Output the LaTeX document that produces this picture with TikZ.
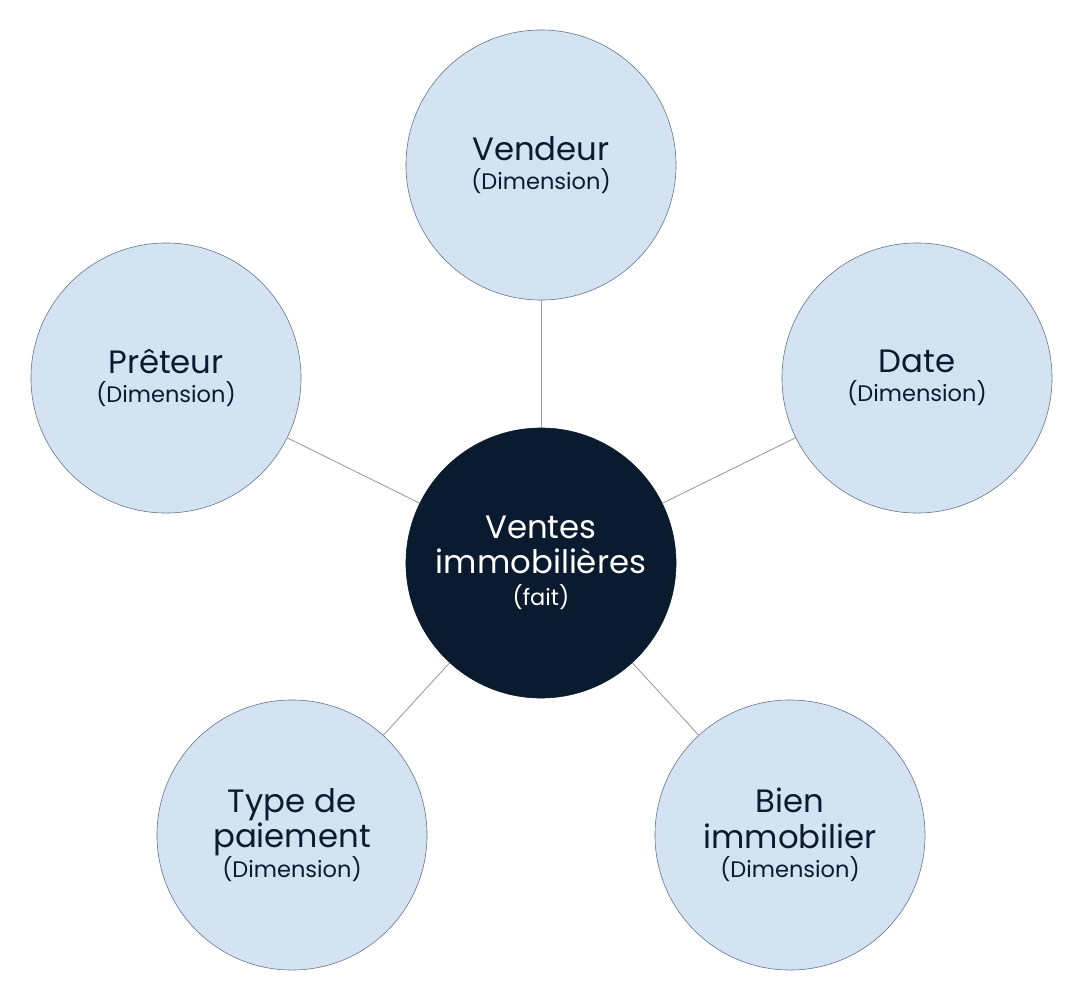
\documentclass[tikz,border=0pt]{standalone}
\usepackage{fontspec}
\setmainfont{Poppins}
\usepackage{tikz}
\definecolor{dimfill}{HTML}{D4E3F2}
\definecolor{dimdraw}{HTML}{5E718A}
\definecolor{factfill}{HTML}{0B1B2F}
\tikzset{
	dim node/.style={circle,draw=dimdraw,fill=dimfill,minimum size=6.75cm,inner sep=0pt,
		align=center,text=factfill,font=\fontsize{23}{27}\selectfont},
	fact node/.style={dim node,fill=factfill,draw=factfill,text=white},
	sub/.style={font=\fontsize{16}{19}\selectfont},
	link/.style={draw=gray!80,line width=0.6pt}
}
\begin{document}
\begin{tikzpicture}[x=0.025cm,y=-0.025cm]
		\useasboundingbox (0,0) rectangle (1084,992);
		\node[fact node] (fait) at (541,563) {Ventes\\[-2pt]immobilières\\[-4pt]{\fontsize{16}{19}\selectfont(fait)}};
		\node[dim node] (vend) at (541,165) {Vendeur\\[-6pt]{\fontsize{16}{19}\selectfont(Dimension)}};
		\node[dim node] (pret) at (166,378) {Prêteur\\[-6pt]{\fontsize{16}{19}\selectfont(Dimension)}};
		\node[dim node] (date) at (917,378) {Date\\[-6pt]{\fontsize{16}{19}\selectfont(Dimension)}};
		\node[dim node] (paie) at (292,835) {Type de\\[-2pt]paiement\\[-6pt]{\fontsize{16}{19}\selectfont(Dimension)}};
		\node[dim node] (bien) at (790,835) {Bien\\[-2pt]immobilier\\[-6pt]{\fontsize{16}{19}\selectfont(Dimension)}};

		\foreach \n in {vend,pret,date,paie,bien}
			\draw[link] (fait) -- (\n);
\end{tikzpicture}
\end{document}
